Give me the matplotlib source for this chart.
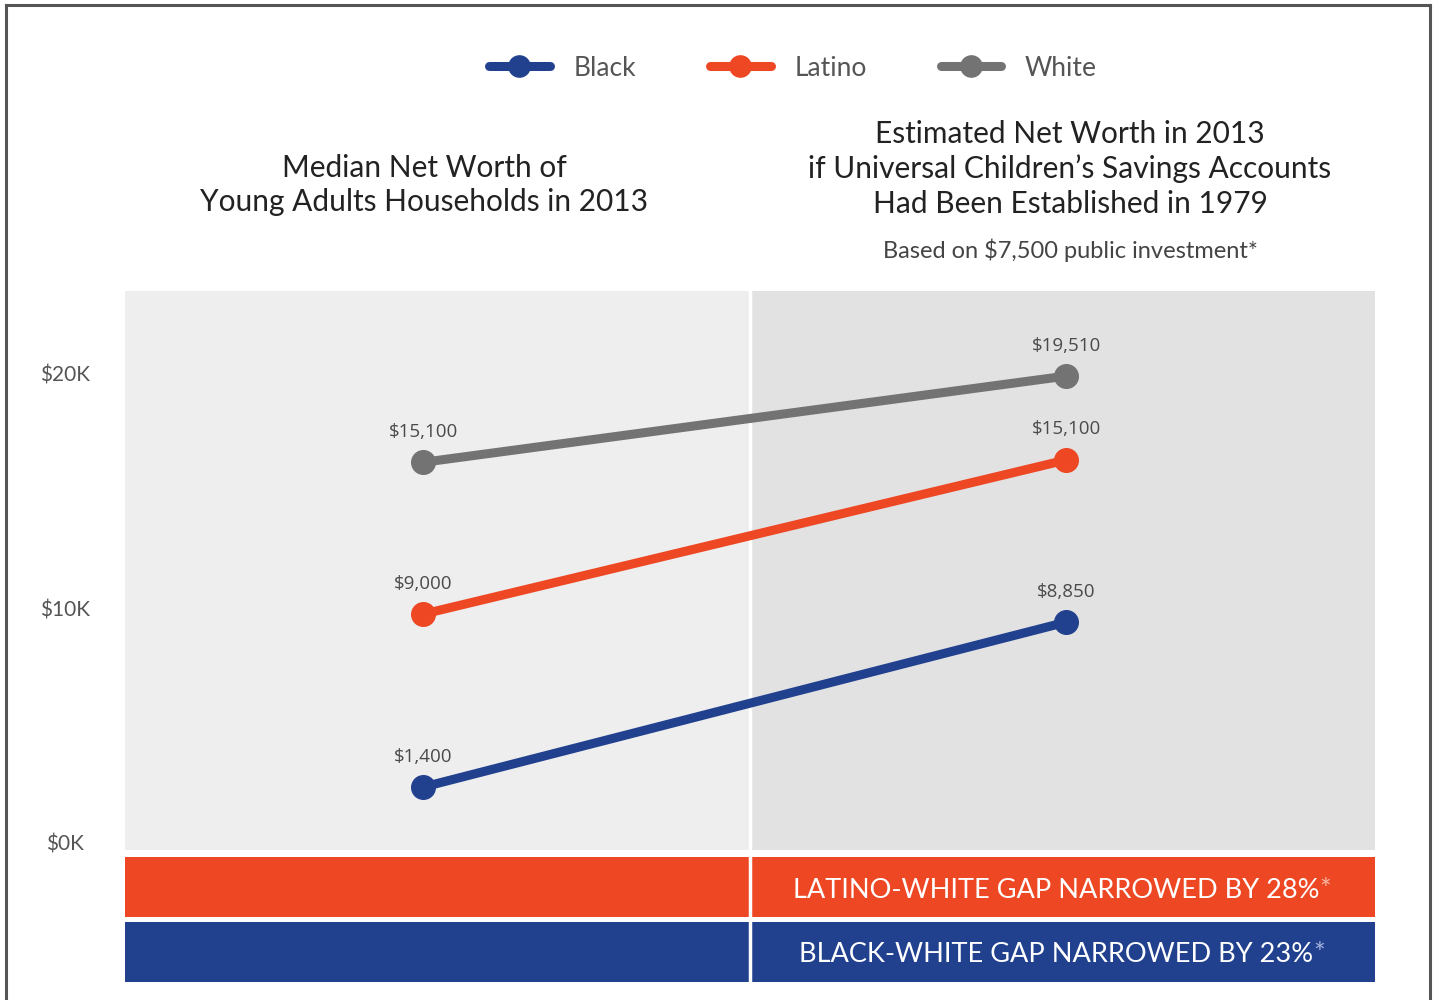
import matplotlib.pyplot as plt
from matplotlib.lines import Line2D

plt.rcParams['font.family'] = ['Lato', 'DejaVu Sans']

# data
groups = ['Black', 'Latino', 'White']
colors = ['#21418f', '#ee4723', '#737373']
x_pos = [0.477, 1.506]  # 2013 actual, 2013 with savings accounts
# plotted heights as drawn in the picture (dollars)
values = {
    'Black': [2380, 9400],
    'Latino': [9740, 16300],
    'White': [16200, 19870],
}
value_labels = {
    'Black': ['$1,400', '$8,850'],
    'Latino': ['$9,000', '$15,100'],
    'White': ['$15,100', '$19,510'],
}
y_ticks = [0, 10000, 20000]
y_tick_labels = ['$0K', '$10K', '$20K']
gap_texts = ['LATINO-WHITE GAP NARROWED BY 28%', 'BLACK-WHITE GAP NARROWED BY 23%']
gap_colors = ['#ee4723', '#21418f']
gap_star_colors = ['#f5b3a0', '#9fb0dc']

W, H = 1438, 1000
fig = plt.figure(figsize=(W / 100, H / 100), dpi=100)
fig.patch.set_facecolor('white')

# frame around the whole graphic
frame_kw = dict(color='#555555', lw=2.2, transform=fig.transFigure)
fig.add_artist(Line2D([6 / W, 6 / W], [0, 1 - 5 / H], **frame_kw))
fig.add_artist(Line2D([6 / W, 1430 / W], [1 - 5 / H, 1 - 5 / H], **frame_kw))
fig.add_artist(Line2D([1430 / W, 1430 / W], [0, 1 - 5 / H], **frame_kw))

# main chart
ax = fig.add_axes([125 / W, 1 - 850 / H, 1250 / W, 559 / H])
ax.set_xlim(0, 2)
ax.set_ylim(-298, 23490)
ax.axvspan(0, 1, color='#efeeef', lw=0)
ax.axvspan(1, 2, color='#e3e2e3', lw=0)
ax.axvline(1, color='white', lw=2.5)
for s in ax.spines.values():
    s.set_visible(False)

lines = []
for g, c in zip(groups, colors):
    ln, = ax.plot(x_pos, values[g], color=c, lw=6.5, marker='o', ms=17,
                  solid_capstyle='round', label=g, zorder=3)
    lines.append(ln)
    for xv, yv, lab in zip(x_pos, values[g], value_labels[g]):
        ax.annotate(lab, (xv, yv), xytext=(0, 22), textcoords='offset points',
                    ha='center', va='center', fontsize=13.5, color='#4a4a4a',
                    family=['Open Sans', 'DejaVu Sans'])

ax.set_xticks([])
ax.set_yticks(y_ticks)
ax.set_yticklabels(y_tick_labels, fontsize=15, color='#555555')
ax.tick_params(axis='y', length=0, pad=43)
for t in ax.get_yticklabels():
    t.set_horizontalalignment('center')

# gap bars below the chart
bx = fig.add_axes([125 / W, 1 - 982 / H, 1250 / W, 125 / H])
bx.set_xlim(0, 2)
bx.set_ylim(0, 125)
bx.axis('off')
bx.barh([95, 30], [2, 2], height=60, left=0, color=gap_colors, lw=0)
bx.axvline(1, color='white', lw=2.5)
for yc, txt, sc in zip([95, 30], gap_texts, gap_star_colors):
    t = bx.text(1.49, yc - 3, txt, ha='center', va='center', color='white', fontsize=19.5)
    bx.annotate('*', xy=(1, 1), xycoords=t, xytext=(0, 0), textcoords='offset points',
                ha='left', va='top', color=sc, fontsize=20)

# titles
fig.text(424 / W, 1 - 185 / H, 'Median Net Worth of\nYoung Adults Households in 2013',
         ha='center', va='center', fontsize=21.5, color='#222222', linespacing=1.3)
fig.text(1070 / W, 1 - 169 / H,
         'Estimated Net Worth in 2013\nif Universal Children\u2019s Savings Accounts\nHad Been Established in 1979',
         ha='center', va='center', fontsize=21.5, color='#222222', linespacing=1.3)
fig.text(1070 / W, 1 - 250 / H, 'Based on $7,500 public investment*',
         ha='center', va='center', fontsize=17, color='#444444')

# legend
leg = fig.legend(handles=lines, loc='center', bbox_to_anchor=(793 / W, 1 - 68 / H),
                 ncol=3, frameon=False, fontsize=19, handlelength=2.3,
                 handletextpad=0.9, columnspacing=2.8, markerscale=0.9)
for t in leg.get_texts():
    t.set_color('#555555')

fig.savefig('out.png', dpi=100, facecolor='white')
